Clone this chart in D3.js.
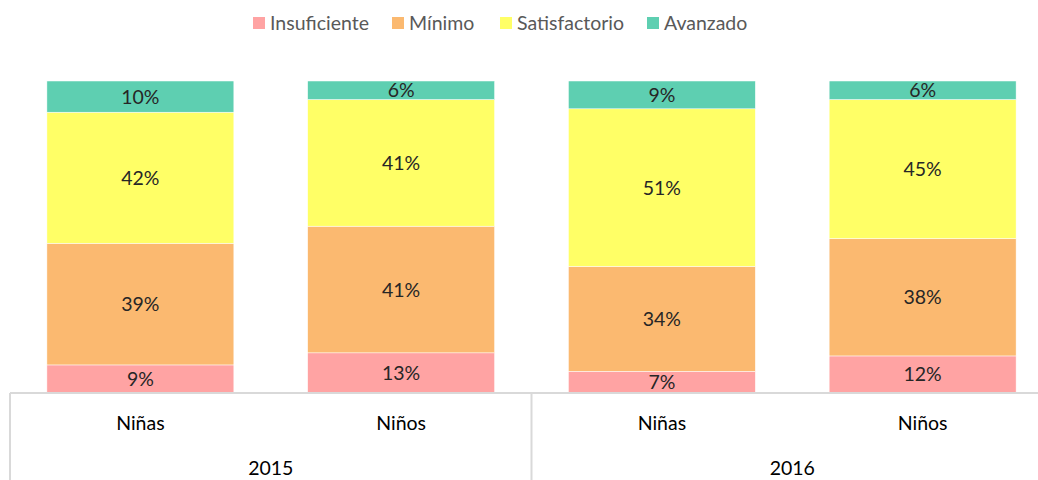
<!DOCTYPE html>
<html lang="es">
<head>
<meta charset="UTF-8">
<title>Niveles de logro</title>
<script src="https://d3js.org/d3.v7.min.js"></script>
<style>
  body { margin: 0; background: #fff; }
  svg { display: block; font-family: Lato, "Open Sans", sans-serif; }
</style>
</head>
<body>
<svg id="chart" width="1038" height="480"></svg>
<script>
// categories (two-level axis)
const groups = ["Niñas", "Niños", "Niñas", "Niños"];
const years = ["2015", "2016"];
const levels = ["Insuficiente", "Mínimo", "Satisfactorio", "Avanzado"];
const colors = ["#FFA3A3", "#FBB970", "#FFFF66", "#5ECFB1"];

// percentage per level, one value per bar
const insuficiente = [9, 13, 7, 12];
const minimo = [39, 41, 34, 38];
const satisfactorio = [42, 41, 51, 45];
const avanzado = [10, 6, 9, 6];

const rows = groups.map((g, i) => ({
    key: i,
    "Insuficiente": insuficiente[i],
    "Mínimo": minimo[i],
    "Satisfactorio": satisfactorio[i],
    "Avanzado": avanzado[i]
}));

const svg = d3.select("#chart");
const plotTop = 81, plotBottom = 393;
const fontSize = 19.5;

const x = d3.scaleBand()
    .domain(rows.map(d => d.key))
    .range([10, 1053])
    .paddingInner(0.283)
    .paddingOuter(0.1415);

const y = d3.scaleLinear().domain([0, 1]).range([plotBottom, plotTop]);

const color = d3.scaleOrdinal().domain(levels).range(colors);

const series = d3.stack()
    .keys(levels)
    .offset(d3.stackOffsetExpand)(rows);

const layer = svg.selectAll("g.layer")
    .data(series)
    .enter().append("g")
    .attr("class", "layer")
    .attr("fill", d => color(d.key));

layer.selectAll("rect")
    .data(d => d)
    .enter().append("rect")
    .attr("x", d => x(d.data.key))
    .attr("width", x.bandwidth())
    .attr("y", d => y(d[1]))
    .attr("height", d => y(d[0]) - y(d[1]))
    .attr("stroke", "#fff")
    .attr("stroke-width", 0.5);

// value labels
series.forEach(s => {
    svg.append("g").selectAll("text")
        .data(s)
        .enter().append("text")
        .attr("x", d => x(d.data.key) + x.bandwidth() / 2)
        .attr("y", d => (y(d[0]) + y(d[1])) / 2)
        .attr("dy", "0.36em")
        .attr("text-anchor", "middle")
        .attr("font-size", fontSize)
        .attr("fill", "#262626")
        .text(d => d.data[s.key] + "%");
});

// category axis lines
const axisColor = "#D9D9D9";
svg.append("line")
    .attr("x1", 10).attr("x2", 1038)
    .attr("y1", plotBottom).attr("y2", plotBottom)
    .attr("stroke", axisColor).attr("stroke-width", 2);

[10, x(2) - x.step() * x.paddingInner() / 2].forEach(px => {
    svg.append("line")
        .attr("x1", px).attr("x2", px)
        .attr("y1", plotBottom).attr("y2", 480)
        .attr("stroke", axisColor).attr("stroke-width", 2);
});

svg.append("g").selectAll("text")
    .data(rows)
    .enter().append("text")
    .attr("x", d => x(d.key) + x.bandwidth() / 2)
    .attr("y", 423)
    .attr("dy", "0.36em")
    .attr("text-anchor", "middle")
    .attr("font-size", fontSize)
    .attr("fill", "#000")
    .text((d, i) => groups[i]);

svg.append("g").selectAll("text")
    .data(years)
    .enter().append("text")
    .attr("x", (d, i) => (x(i * 2) + x(i * 2 + 1) + x.bandwidth()) / 2)
    .attr("y", 468)
    .attr("dy", "0.36em")
    .attr("text-anchor", "middle")
    .attr("font-size", fontSize)
    .attr("fill", "#000")
    .text(d => d);

// legend
const legendX = [253, 392, 500, 647];
const legend = svg.append("g").selectAll("g")
    .data(levels)
    .enter().append("g")
    .attr("transform", (d, i) => `translate(${legendX[i]}, 23)`);

legend.append("rect")
    .attr("x", 0).attr("y", -6)
    .attr("width", 12).attr("height", 12)
    .attr("fill", d => color(d));

legend.append("text")
    .attr("x", 17)
    .attr("dy", "0.36em")
    .attr("font-size", fontSize)
    .attr("fill", "#595959")
    .text(d => d);
</script>
</body>
</html>
